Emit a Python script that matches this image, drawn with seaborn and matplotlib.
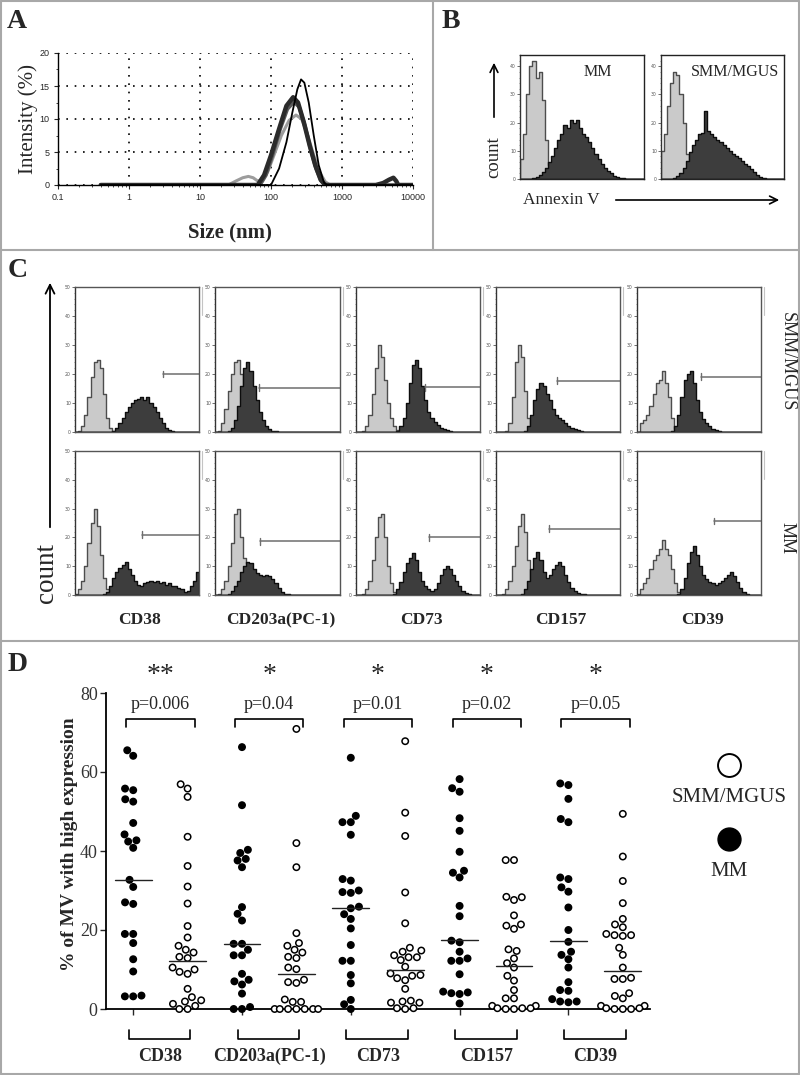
import numpy as np
import pandas as pd
import matplotlib
matplotlib.use("Agg")
import matplotlib.pyplot as plt
from matplotlib.lines import Line2D
from matplotlib.patches import FancyArrowPatch
from matplotlib.ticker import MultipleLocator
import seaborn as sns

# ---------------- Panel A : DLS size distributions ----------------
dls_black_size = [0.4, 100, 130, 165, 200, 235, 265, 295, 340, 400, 470, 560, 620, 10000]
dls_black_int = [0, 0, 2.5, 6.5, 11, 14.5, 16, 15.5, 12.5, 7.5, 3.0, 0.3, 0, 0]
dls_dark1_size = [0.4, 65, 80, 100, 130, 165, 205, 240, 290, 350, 420, 500, 580, 3000, 3800, 4600, 5300, 5800, 6200, 10000]
dls_dark1_int = [0, 0, 1.5, 4.5, 8.5, 12, 13.3, 12.5, 9.5, 6, 3, 0.8, 0, 0, 0.3, 0.8, 1.1, 0.6, 0, 0]
dls_dark2_size = [0.4, 70, 85, 105, 135, 170, 210, 250, 300, 360, 430, 510, 590, 10000]
dls_dark2_int = [0, 0, 1.5, 4.5, 8.5, 11.5, 12.6, 11.8, 9, 5.5, 2.5, 0.6, 0, 0]
dls_gray_size = [0.4, 25, 32, 40, 48, 56, 65, 75, 90, 110, 140, 180, 225, 270, 330, 400, 480, 580, 680, 10000]
dls_gray_int = [0, 0, 0.6, 1.1, 1.3, 1.1, 0.6, 0.8, 2, 4.5, 7.5, 9.8, 10.6, 10, 7.5, 4.5, 2, 0.5, 0, 0]
dls_xticks = [0.1, 1, 10, 100, 1000, 10000]
dls_xticklabels = ["0.1", "1", "10", "100", "1000", "10000"]

# ---------------- Panel B : Annexin V histograms (40 channels) ----------------
annexin_mm_ctrl = [7, 16, 30, 40, 42, 36, 38, 28, 14, 5, 1.5, 0.5] + [0] * 28
annexin_mm_stain = [0, 0, 0, 0, 0.3, 0.8, 1.5, 2.5, 4, 6, 8, 11, 14, 16, 19, 18, 21, 20, 21, 18,
                    16, 15, 13, 11, 9, 7, 5.5, 4, 3, 2, 1.2, 0.7, 0.4, 0.2, 0, 0, 0, 0, 0, 0]
annexin_smm_ctrl = [10, 16, 26, 34, 38, 37, 30, 20, 9, 3, 1, 0.3] + [0] * 28
annexin_smm_stain = [0, 0, 0, 0, 0.3, 1, 2, 4, 6.5, 9.5, 12, 14, 16, 16.5, 24, 17, 16, 15, 14, 13,
                     12, 11, 10, 9, 8, 7.5, 6.5, 5.5, 4.5, 3.5, 2.5, 1.5, 0.8, 0.3, 0, 0, 0, 0, 0, 0]

# ---------------- Panel C : ectoenzyme histograms (40 channels) ----------------
markers = ["CD38", "CD203a(PC-1)", "CD73", "CD157", "CD39"]
# SMM/MGUS row
cd38_smm_ctrl = [0, 0.5, 2, 6, 12, 19, 24, 25, 22, 13, 5, 1.5, 0.5] + [0] * 27
cd38_smm_stain = [0] * 12 + [0.5, 1.5, 3, 5, 7, 8.5, 10, 11, 11.5, 12, 11, 12, 10, 8.5, 7, 5, 3, 1.5, 0.8, 0.3] + [0] * 8
cd203a_smm_ctrl = [0, 0.5, 3, 8, 14, 20, 24, 25, 20, 12, 5, 2, 0.5] + [0] * 27
cd203a_smm_stain = [0, 0, 0, 0, 0.5, 1.5, 4, 9, 16, 22, 24, 21, 16, 11, 7, 4, 2, 1, 0.5, 0.2] + [0] * 20
cd73_smm_ctrl = [0, 0, 0.5, 2, 6, 13, 22, 30, 26, 18, 10, 5, 2, 0.7, 0.2] + [0] * 25
cd73_smm_stain = [0] * 13 + [0.5, 2, 5, 10, 17, 23, 25, 22, 16, 11, 7, 5, 3.5, 2.5, 1.5, 1, 0.6, 0.3, 0.1] + [0] * 8
cd157_smm_ctrl = [0, 0, 0, 0.5, 3, 12, 24, 30, 26, 14, 5, 1.5, 0.5] + [0] * 27
cd157_smm_stain = [0] * 9 + [0.5, 2, 6, 11, 15, 17, 16, 13, 11, 8, 6, 5, 4, 3, 2.2, 1.5, 1, 0.6, 0.3] + [0] * 12
cd39_smm_ctrl = [0, 3, 4, 6, 9, 13, 17, 18, 21, 17, 12, 5, 1, 0.3] + [0] * 26
cd39_smm_stain = [0] * 11 + [0.5, 2, 6, 12, 18, 20, 21, 17, 11, 7, 4.5, 3, 2, 1.2, 0.7, 0.3] + [0] * 13
# MM row
cd38_mm_ctrl = [0.5, 2, 5, 10, 18, 25, 30, 24, 14, 6, 2, 0.5] + [0] * 28
cd38_mm_stain = [0] * 9 + [0.3, 1, 3, 6, 8, 9.5, 10.5, 11.5, 9, 7, 5, 3.5, 3, 4, 4.5, 5, 4.5, 5, 4, 4.5,
                           3.5, 4, 3, 3, 2.5, 2, 1, 1.5, 3, 5, 8]
cd203a_mm_ctrl = [0, 0.5, 2, 5, 10, 18, 28, 30, 20, 13, 11, 9, 7, 5, 3, 1.5, 0.5] + [0] * 23
cd203a_mm_stain = [0, 0, 0, 0, 0.5, 1.5, 3, 5, 8, 10, 11.5, 11, 9, 7.5, 7, 6.5, 7, 6.5, 5.5, 4,
                   2.5, 1.2, 0.5, 0.2] + [0] * 16
cd73_mm_ctrl = [0, 0, 0.5, 2, 5, 12, 20, 27, 28, 20, 10, 4, 1, 0.3] + [0] * 26
cd73_mm_stain = [0] * 12 + [0.5, 2, 4.5, 8, 11, 13, 14.5, 12, 8, 5, 3, 2, 1.5, 2, 4, 7, 9, 10, 9, 7,
                            5, 3, 1.5, 0.7, 0.3] + [0] * 3
cd157_mm_ctrl = [0, 0, 0.5, 2, 5, 10, 17, 24, 28, 22, 12, 5, 1.5, 0.5] + [0] * 26
cd157_mm_stain = [0] * 8 + [0.5, 2, 5, 9, 13, 15, 12, 8, 6, 7, 9, 10.5, 11.5, 10, 7, 4.5, 2.5, 1.5,
                            0.8, 0.4, 0.2] + [0] * 11
cd39_mm_ctrl = [0.5, 2, 4, 6, 9, 12, 14, 16, 19, 16, 14, 9, 4, 1, 0.3] + [0] * 25
cd39_mm_stain = [0] * 13 + [0.5, 2, 6, 11, 15, 17, 14, 10, 7, 5.5, 4.5, 4, 3.5, 4, 5, 6, 7, 8, 6.5,
                            4.5, 2.5, 1, 0.4] + [0] * 4
# gate markers (channel where gate starts, count level)
smm_gate_start = [28.4, 14.0, 22.4, 19.6, 20.8]
smm_gate_level = [20, 15.2, 15.5, 17.6, 19]
mm_gate_start = [21.6, 14.4, 23.6, 17.2, 24.8]
mm_gate_level = [21, 18.7, 20, 23, 25.7]

# ---------------- Panel D : % of MV with high expression ----------------
mm_cd38 = [65.5, 64.1, 55.4, 55.8, 53.1, 52.5, 47.1, 44.2, 42.7, 42.4, 40.8, 32.7, 30.9, 26.6, 27.0,
           19.0, 19.0, 16.7, 12.6, 9.5, 3.4, 3.2, 3.2]
smm_cd38 = [56.9, 55.8, 53.7, 43.6, 36.2, 31.0, 26.7, 21.0, 18.1, 16.0, 15.0, 14.3, 13.2, 12.9, 10.0,
            10.5, 9.4, 8.9, 5.1, 3.0, 2.2, 1.9, 1.3, 0.8, 0, 0]
mm_cd203a = [66.3, 51.6, 40.3, 39.5, 38.0, 37.6, 35.9, 25.8, 24.1, 22.4, 16.5, 16.5, 15.0, 13.6, 13.6,
             8.9, 7.4, 7.0, 6.2, 3.9, 0.5, 0, 0]
smm_cd203a = [70.9, 42.0, 35.9, 19.2, 16.7, 16.0, 15.0, 14.3, 13.2, 12.9, 10.5, 10.1, 7.4, 6.8, 6.6,
              2.4, 1.8, 1.8, 0, 0, 0, 0, 0, 0, 0]
mm_cd73 = [63.6, 48.9, 47.3, 47.3, 44.1, 32.9, 32.5, 30.0, 29.6, 29.4, 25.9, 25.5, 24.0, 22.8, 20.4,
           16.2, 12.2, 12.2, 8.6, 6.5, 2.3, 1.2, 0]
smm_cd73 = [67.8, 49.7, 43.8, 29.5, 21.7, 15.5, 14.8, 14.5, 13.6, 13.1, 13.1, 12.4, 10.7, 9.0, 8.6,
            8.4, 7.8, 7.3, 5.1, 2.1, 1.9, 1.6, 1.6, 0.2, 0.2, 0]
mm_cd157 = [58.2, 55.9, 55.0, 48.3, 45.1, 39.8, 35.0, 34.5, 33.3, 26.1, 23.5, 17.3, 16.9, 14.5, 12.8,
            12.2, 12.2, 8.8, 4.4, 4.2, 4.0, 3.8, 1.4]
smm_cd157 = [37.7, 37.7, 28.4, 28.3, 27.6, 23.7, 21.4, 21.1, 20.3, 15.1, 14.7, 12.8, 11.6, 10.5, 8.4,
             7.2, 4.8, 2.7, 2.7, 0.8, 0.8, 0.2, 0.2, 0.2, 0, 0]
mm_cd39 = [57.1, 56.7, 53.2, 48.1, 47.3, 33.3, 32.9, 30.8, 29.7, 25.7, 20.0, 17.0, 14.5, 13.7, 12.6,
           10.5, 6.8, 4.8, 4.6, 2.5, 1.9, 1.9, 1.7]
smm_cd39 = [49.4, 38.6, 32.4, 26.8, 22.8, 21.4, 20.7, 19.0, 18.7, 18.7, 18.5, 15.5, 13.7, 10.5, 7.9,
            7.6, 7.6, 4.0, 3.3, 2.7, 0.8, 0.8, 0.2, 0.2, 0, 0, 0]
medians_mm = [32.7, 16.5, 25.5, 17.5, 17.2]
medians_smm = [12.2, 8.8, 9.9, 11.0, 9.6]
p_values = ["p=0.006", "p=0.04", "p=0.01", "p=0.02", "p=0.05"]
stars = ["**", "*", "*", "*", "*"]
d_yticks = [0, 20, 40, 60, 80]
groups = ["MM", "SMM/MGUS"]

# ======================================================================
sns.set_theme(style="white")
SERIF = ["Liberation Serif", "DejaVu Serif"]
plt.rcParams["font.family"] = SERIF
plt.rcParams["axes.linewidth"] = 1.0

W, H = 800, 1075
fig = plt.figure(figsize=(W / 100, H / 100), dpi=100)


def add_ax(x0, y0, x1, y1):
    return fig.add_axes([x0 / W, 1 - y1 / H, (x1 - x0) / W, (y1 - y0) / H])


def ftext(x, y, s, **kw):
    fig.text(x / W, 1 - y / H, s, **kw)


def fline(x0, y0, x1, y1, **kw):
    fig.add_artist(Line2D([x0 / W, x1 / W], [1 - y0 / H, 1 - y1 / H], transform=fig.transFigure, **kw))


def farrow(x0, y0, x1, y1, lw=1.2, ms=14):
    fig.add_artist(FancyArrowPatch((x0 / W, 1 - y0 / H), (x1 / W, 1 - y1 / H),
                                   transform=fig.transFigure, arrowstyle="->",
                                   mutation_scale=ms, lw=lw, color="black"))


# panel borders
BC = "#a8a8a8"
fline(1, 1, 799, 1, color=BC, lw=1.5)
fline(1, 1074, 799, 1074, color=BC, lw=1.5)
fline(1, 1, 1, 1074, color=BC, lw=1.5)
fline(799, 1, 799, 1074, color=BC, lw=1.5)
fline(1, 250, 799, 250, color=BC, lw=1.5)
fline(433, 1, 433, 250, color=BC, lw=1.5)
fline(1, 641, 799, 641, color=BC, lw=1.5)

# panel letters
for letter, (lx, ly) in zip("ABCD", [(7, 28), (442, 28), (8, 277), (8, 671)]):
    ftext(lx, ly, letter, fontsize=20, fontweight="bold", va="baseline", ha="left")

# ---------------- Panel A ----------------
axA = add_ax(58, 53, 413, 185)
sns.lineplot(x=dls_gray_size, y=dls_gray_int, color="#9c9c9c", lw=2.2, ax=axA)
sns.lineplot(x=dls_dark2_size, y=dls_dark2_int, color="#595959", lw=2.6, ax=axA)
sns.lineplot(x=dls_dark1_size, y=dls_dark1_int, color="#2b2b2b", lw=3.2, ax=axA)
sns.lineplot(x=dls_black_size, y=dls_black_int, color="black", lw=1.3, ax=axA)
axA.set_xscale("log")
axA.set_xlim(0.1, 10000)
axA.set_ylim(0, 20)
axA.set_xticks(dls_xticks)
axA.set_xticklabels(dls_xticklabels, family=["Liberation Sans", "DejaVu Sans"], fontsize=6.5)
axA.set_yticks([0, 5, 10, 15, 20])
axA.set_yticklabels(["0", "5", "10", "15", "20"], family=["Liberation Sans", "DejaVu Sans"], fontsize=6.5)
axA.yaxis.set_minor_locator(MultipleLocator(2.5))
axA.tick_params(axis="both", which="major", length=3, width=0.8, pad=3, bottom=True, left=True)
axA.tick_params(axis="both", which="minor", length=1.5, width=0.6, bottom=True, left=True)
axA.grid(True, which="major", linestyle=(0, (1, 4)), color="black", lw=1.2)
for s in ["top", "right"]:
    axA.spines[s].set_visible(False)
axA.spines["left"].set_color("black")
axA.spines["bottom"].set_color("black")
axA.set_xlabel("")
axA.set_ylabel("")
ftext(28, 119, "Intensity (%)", fontsize=15, rotation=90, ha="center", va="center")
ftext(230, 232, "Size (nm)", fontsize=15, fontweight="bold", ha="center", va="center")


# ---------------- flow histogram helper ----------------
def flow_hist(ax, ctrl, stain, ymax, yticks, frame="#555555"):
    n = len(ctrl)
    chan = np.arange(n) + 0.5
    hd = pd.DataFrame({"channel": chan, "ctrl": ctrl, "stain": stain})
    sns.histplot(data=hd, x="channel", weights="ctrl", binwidth=1, binrange=(0, n),
                 element="step", fill=True, color="#cacaca", edgecolor="#4d4d4d",
                 linewidth=1.0, alpha=1, ax=ax)
    sns.histplot(data=hd, x="channel", weights="stain", binwidth=1, binrange=(0, n),
                 element="step", fill=True, color="#3d3d3d", edgecolor="#0d0d0d",
                 linewidth=1.0, alpha=1, ax=ax)
    ax.set_xlim(0, n)
    ax.set_ylim(0, ymax)
    ax.set_xticks([])
    ax.set_yticks(yticks)
    ax.set_yticklabels([str(t) for t in yticks], family=["DejaVu Sans"], fontsize=3.3, color="#555555")
    ax.yaxis.set_minor_locator(MultipleLocator(2))
    ax.tick_params(axis="y", which="major", length=2, width=0.6, pad=1, left=True, colors="#555555")
    ax.tick_params(axis="y", which="minor", length=1, width=0.5, left=True, colors="#777777")
    ax.set_xlabel("")
    ax.set_ylabel("")
    for s in ax.spines.values():
        s.set_visible(True)
        s.set_color(frame)
        s.set_linewidth(1.0)
    ax.spines["left"].set_color("#333333")


# ---------------- Panel B ----------------
axB1 = add_ax(520, 55, 644, 179)
flow_hist(axB1, annexin_mm_ctrl, annexin_mm_stain, 44, [0, 10, 20, 30, 40], frame="#222222")
axB1.text(0.63, 0.86, "MM", transform=axB1.transAxes, fontsize=11.5, ha="center", va="center")
axB2 = add_ax(661, 55, 784, 179)
flow_hist(axB2, annexin_smm_ctrl, annexin_smm_stain, 44, [0, 10, 20, 30, 40], frame="#222222")
axB2.text(0.6, 0.86, "SMM/MGUS", transform=axB2.transAxes, fontsize=11.5, ha="center", va="center")
farrow(494, 120, 494, 60, lw=1.2, ms=14)
ftext(494, 157, "count", fontsize=13.5, rotation=90, ha="center", va="center")
ftext(561, 200, "Annexin V", fontsize=12.5, ha="center", va="center")
farrow(613, 200, 782, 200, lw=1.2, ms=14)

# ---------------- Panel C ----------------
cols_x = [(75, 199), (215, 340), (356, 480), (496, 620), (637, 761)]
smm_ctrl = [cd38_smm_ctrl, cd203a_smm_ctrl, cd73_smm_ctrl, cd157_smm_ctrl, cd39_smm_ctrl]
smm_stain = [cd38_smm_stain, cd203a_smm_stain, cd73_smm_stain, cd157_smm_stain, cd39_smm_stain]
mm_ctrl = [cd38_mm_ctrl, cd203a_mm_ctrl, cd73_mm_ctrl, cd157_mm_ctrl, cd39_mm_ctrl]
mm_stain = [cd38_mm_stain, cd203a_mm_stain, cd73_mm_stain, cd157_mm_stain, cd39_mm_stain]
rows = [((287, 432), smm_ctrl, smm_stain, smm_gate_start, smm_gate_level),
        ((451, 595), mm_ctrl, mm_stain, mm_gate_start, mm_gate_level)]
for (y0, y1), ctrls, stains, gstart, glevel in rows:
    for i, (x0, x1) in enumerate(cols_x):
        ax = add_ax(x0, y0, x1, y1)
        flow_hist(ax, ctrls[i], stains[i], 50, [0, 10, 20, 30, 40, 50])
        n = len(ctrls[i])
        ax.plot([gstart[i], n], [glevel[i], glevel[i]], color="#6e6e6e", lw=1.1, clip_on=False)
        ax.plot([gstart[i], gstart[i]], [glevel[i] - 1.2, glevel[i] + 1.2], color="#6e6e6e", lw=1.0)
        fline(x1 + 3, y0, x1 + 3, y0 + 28, color="#c4c4c4", lw=0.8)
for i, (x0, x1) in enumerate(cols_x):
    ftext((x0 + x1) / 2 + 3, 620, markers[i], fontsize=12.5, fontweight="bold", ha="center", va="center")
ftext(787, 362, "SMM/MGUS", fontsize=13, rotation=270, ha="center", va="center")
ftext(787, 538, "MM", fontsize=13, rotation=270, ha="center", va="center")
farrow(50, 530, 50, 280, lw=1.3, ms=16)
ftext(47, 573, "count", fontsize=19.5, rotation=90, ha="center", va="center")

# ---------------- Panel D ----------------
axD = add_ax(106, 693, 650, 1009)
mm_lists = [mm_cd38, mm_cd203a, mm_cd73, mm_cd157, mm_cd39]
smm_lists = [smm_cd38, smm_cd203a, smm_cd73, smm_cd157, smm_cd39]
recs = []
order = []
for name, mm, smm in zip(markers, mm_lists, smm_lists):
    order += [name + "|MM", name + "|SMM"]
    recs += [(name + "|MM", v, "MM") for v in mm]
    recs += [(name + "|SMM", v, "SMM/MGUS") for v in smm]
df = pd.DataFrame(recs, columns=["slot", "value", "group"])
sns.swarmplot(data=df, x="slot", y="value", hue="group", order=order, hue_order=groups,
              palette={"MM": "black", "SMM/MGUS": "white"}, edgecolor="black", linewidth=1.1,
              size=4.6, legend=False, warn_thresh=1, ax=axD)
for c in axD.collections:
    c.set_clip_on(False)
    c.set_zorder(3)
axD.set_xlim(-0.5, 9.5)
axD.set_ylim(0, 80)
for i in range(5):
    for k, med in enumerate([medians_mm[i], medians_smm[i]]):
        xc = 2 * i + k
        axD.plot([xc - 0.34, xc + 0.34], [med, med], color="#222222", lw=1.0, zorder=4)
    xa, xb = 2 * i - 0.13, 2 * i + 1.13
    axD.plot([xa, xa, xb, xb], [71.4, 73.5, 73.5, 71.4], color="black", lw=1.2, clip_on=False)
    axD.text(2 * i + 0.5, 77.0, p_values[i], fontsize=13, ha="center", va="center")
    axD.text(2 * i + 0.5, 84.5, stars[i], fontsize=20, ha="center", va="center")
    xa, xb = 2 * i - 0.08, 2 * i + 1.05
    axD.plot([xa, xa, xb, xb], [-5.3, -7.6, -7.6, -5.3], color="black", lw=1.2, clip_on=False)
    axD.text(2 * i + 0.5, -11.9, markers[i], fontsize=13, fontweight="bold", ha="center", va="center")
axD.set_xticks([0, 2, 4, 6, 8])
axD.set_xticklabels([])
axD.set_yticks(d_yticks)
axD.set_yticklabels([str(t) for t in d_yticks], fontsize=13, color="#333333")
axD.tick_params(axis="both", which="major", length=4, width=1.0, left=True, bottom=True, pad=2)
sns.despine(ax=axD)
axD.spines["left"].set_color("black")
axD.spines["bottom"].set_color("black")
axD.spines["left"].set_linewidth(1.3)
axD.spines["bottom"].set_linewidth(1.3)
axD.set_xlabel("")
axD.set_ylabel("")
ftext(70, 844, "% of MV with high expression", fontsize=14, fontweight="bold",
      rotation=90, ha="center", va="center")

fig.add_artist(Line2D([729 / W], [1 - 765 / H], transform=fig.transFigure, marker="o",
                      markersize=16.5, markerfacecolor="white", markeredgecolor="black",
                      markeredgewidth=1.4, linestyle="none"))
ftext(729, 798, "SMM/MGUS", fontsize=15, ha="center", va="center")
fig.add_artist(Line2D([729 / W], [1 - 839 / H], transform=fig.transFigure, marker="o",
                      markersize=16.5, markerfacecolor="black", markeredgecolor="black",
                      linestyle="none"))
ftext(729, 872, "MM", fontsize=15, ha="center", va="center")

fig.savefig("out.png", dpi=100)
